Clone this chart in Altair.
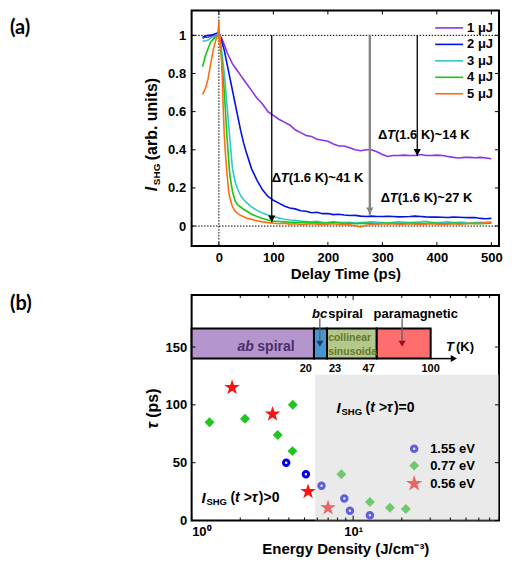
import altair as alt
import pandas as pd

FONT = "Liberation Sans"
LFONT = "Lato"
W = 308
HA = 236
HB = 226

# ---------------- Panel (a) data ----------------
series_names = ["1 μJ", "2 μJ", "3 μJ", "4 μJ", "5 μJ"]
series_colors = ["#8c32e6", "#0014e6", "#32c8c8", "#14c814", "#ff6e14"]

t_grid = [-30, -25, -20, -15, -10, -5, 0, 5, 10, 15, 20, 25, 30, 35, 40, 45, 50,
          60, 70, 80, 90, 100, 110, 120, 130, 140, 150, 160, 170, 180, 190, 200,
          210, 220, 230, 240, 250, 260, 270, 280, 290, 300, 310, 320, 330, 340, 350,
          360, 370, 380, 390, 400, 410, 420, 430, 440, 450, 460, 470, 480, 490, 500]

i1 = [0.985, 0.99, 0.99, 0.995, 1.0, 1.0, 1.01,
      0.985, 0.95, 0.91, 0.88, 0.85, 0.83, 0.81, 0.79, 0.77, 0.75,
      0.71, 0.67, 0.64, 0.60, 0.58, 0.56, 0.545, 0.53, 0.505, 0.49,
      0.475, 0.47, 0.455, 0.45, 0.445, 0.43, 0.42, 0.42, 0.41, 0.40,
      0.395, 0.40, 0.40, 0.39, 0.375, 0.365, 0.37, 0.37, 0.372, 0.37,
      0.37, 0.375, 0.37, 0.37, 0.372, 0.37, 0.365, 0.36, 0.357, 0.36,
      0.36, 0.358, 0.36, 0.357, 0.353]
i2 = [0.99, 0.995, 1.0, 1.0, 1.005, 1.01, 1.015,
      0.97, 0.92, 0.85, 0.78, 0.71, 0.64, 0.57, 0.50, 0.44, 0.39,
      0.30, 0.24, 0.19, 0.155, 0.135, 0.12, 0.105, 0.095, 0.09, 0.08,
      0.078, 0.07, 0.072, 0.065, 0.066, 0.06, 0.062, 0.058, 0.055, 0.056,
      0.052, 0.05, 0.052, 0.05, 0.05, 0.051, 0.05, 0.048, 0.049, 0.05,
      0.052, 0.05, 0.048, 0.047, 0.047, 0.046, 0.045, 0.047, 0.046, 0.045,
      0.044, 0.045, 0.04, 0.038, 0.04]
i3 = [0.97, 0.97, 0.975, 0.985, 0.99, 1.0, 1.01,
      0.92, 0.80, 0.63, 0.46, 0.30, 0.23, 0.19, 0.16, 0.14, 0.125,
      0.10, 0.082, 0.068, 0.058, 0.05, 0.042, 0.036, 0.032, 0.03, 0.026,
      0.024, 0.022, 0.025, 0.02, 0.018, 0.022, 0.02, 0.018, 0.02, 0.016,
      0.018, 0.02, 0.022, 0.02, 0.018, 0.015, 0.02, 0.022, 0.02, 0.018,
      0.02, 0.022, 0.025, 0.02, 0.018, 0.02, 0.022, 0.018, 0.02, 0.02,
      0.015, 0.018, 0.02, 0.018, 0.02]
i4 = [0.835, 0.89, 0.93, 0.965, 0.98, 0.995, 1.005,
      0.88, 0.70, 0.46, 0.27, 0.18, 0.13, 0.11, 0.10, 0.088, 0.08,
      0.062, 0.05, 0.04, 0.032, 0.026, 0.024, 0.022, 0.02, 0.02, 0.018,
      0.02, 0.016, 0.018, 0.015, 0.017, 0.02, 0.016, 0.014, 0.015, 0.012,
      0.014, 0.015, 0.013, 0.012, 0.014, 0.016, 0.015, 0.012, 0.014, 0.015,
      0.014, 0.013, 0.015, 0.016, 0.014, 0.012, 0.013, 0.015, 0.014, 0.012,
      0.013, 0.014, 0.012, 0.013, 0.015]
t5 = [-30, -25, -20, -15, -10, -5, -2, 0, 1, 2, 4, 6, 8, 10, 12, 15, 18, 20, 25,
      30, 35, 40, 45, 50, 60, 70, 80, 90, 100,
      110, 120, 130, 140, 150, 160, 170, 180, 190, 200,
      210, 220, 230, 240, 250, 260, 270, 280, 290, 300,
      310, 320, 330, 340, 350, 360, 370, 380, 390, 400,
      410, 420, 430, 440, 450, 460, 470, 480, 490, 500]
i5 = [0.69, 0.72, 0.77, 0.85, 0.93, 0.98, 1.0, 1.075, 0.95, 1.0, 0.93, 0.80, 0.62,
      0.47, 0.38, 0.27, 0.18, 0.15, 0.10, 0.078, 0.065, 0.055, 0.05, 0.042, 0.035,
      0.028, 0.022, 0.018, 0.015,
      0.012, 0.015, 0.01, 0.012, 0.008, 0.01, 0.012, 0.01, 0.008, 0.01,
      0.012, 0.008, 0.01, 0.006, 0.002, -0.005, 0.004, 0.008, 0.01, 0.012,
      0.01, 0.012, 0.008, 0.01, 0.012, 0.01, 0.008, 0.01, 0.012, 0.01,
      0.008, 0.01, 0.012, 0.01, 0.012, 0.015, 0.012, 0.015, 0.018, 0.02]
series_t = [t_grid, t_grid, t_grid, t_grid, t5]
series_i = [i1, i2, i3, i4, i5]

arrow_t = [97, 277, 364]
arrow_tip = [0.018, 0.06, 0.366]
arrow_col = ["black", "#858585", "black"]
arrow_w = [1.3, 2.4, 1.3]

ann_t = [292, 97, 297]
ann_i = [0.48, 0.25, 0.147]
ann_val = ["14", "41", "27"]

xt_a = [0, 100, 200, 300, 400, 500]
yt_a = [0, 0.2, 0.4, 0.6, 0.8, 1]

# ---------------- Panel (b) data ----------------
phase_bounds_E = [1.0, 5.72, 6.89, 14.0, 30.2]
phase_fill = ["#b496cd", "#4696d2", "#b4c88c", "#ff6e6e"]
phase_temps = ["20", "23", "47", "100"]

pts_names = ["1.55 eV", "0.77 eV", "0.56 eV"]
pts_colors = ["#0000ee", "#22c422", "#ff1010"]
E_155 = [3.85, 5.1, 6.37, 8.82, 9.55, 12.7]
tau_155 = [50, 40, 30, 19, 8.5, 4.5]
E_077 = [1.29, 2.14, 3.41, 4.23, 4.21, 8.46, 12.7, 16.9, 21.2]
tau_077 = [85, 88, 74, 100, 60, 40, 16, 11, 10]
E_056 = [1.78, 3.17, 5.26, 6.99]
tau_056 = [115, 92, 25, 11]

xt_b_major = [1, 10]
xt_b_minor = [2, 3, 4, 5, 6, 7, 8, 9, 20, 30, 40, 50, 60, 70, 80]
yt_b = [0, 50, 100, 150]

STAR = ("M0,-1L0.2245,-0.309L0.9511,-0.309L0.3633,0.118L0.5878,0.809L0,0.382"
        "L-0.5878,0.809L-0.3633,0.118L-0.9511,-0.309L-0.2245,-0.309Z")

one = pd.DataFrame({"k": [0]})


def txt(s, x, y, size=13, weight="bold", style="normal", align="left",
        baseline="middle", angle=0, font=FONT, color="black", dx=0, dy=0):
    kw = dict(font=font, fontSize=size, fontWeight=weight, fontStyle=style,
              align=align, baseline=baseline, color=color, dx=dx, dy=dy)
    if angle:
        kw["angle"] = angle
    return alt.Chart(one).mark_text(**kw).encode(
        x=alt.value(x), y=alt.value(y), text=alt.value(s))


# ================= Panel (a) =================
xa_scale = alt.Scale(domain=[-50, 514], nice=False, zero=False)
ya_scale = alt.Scale(domain=[-0.105, 1.13], nice=False, zero=False)
xa_axis = alt.Axis(values=xt_a, ticks=False, domain=False, grid=False,
                   labelFont=FONT, labelFontSize=13, labelFontWeight="bold",
                   labelColor="black", labelPadding=5,
                   title="Delay Time (ps)", titleFont=FONT, titleFontSize=15,
                   titleFontWeight="bold", titleColor="black", titlePadding=2)
ya_axis = alt.Axis(values=yt_a, format="~g", ticks=False, domain=False, grid=False,
                   labelFont=FONT, labelFontSize=13, labelFontWeight="bold",
                   labelColor="black", labelPadding=6, title=None)


def XA(f="t"):
    return alt.X(f"{f}:Q", scale=xa_scale, axis=xa_axis)


def YA(f="I"):
    return alt.Y(f"{f}:Q", scale=ya_scale, axis=ya_axis)


la = []
la.append(alt.Chart(pd.DataFrame({"I": [1.0, 0.0]})).mark_rule(
    color="black", strokeWidth=1, strokeDash=[1.5, 1.5]).encode(y=YA()))
la.append(alt.Chart(pd.DataFrame({"t": [0.0]})).mark_rule(
    color="black", strokeWidth=1, strokeDash=[1.5, 1.5]).encode(x=XA()))

for col, tt, vv in zip(series_colors, series_t, series_i):
    df = pd.DataFrame({"t": tt, "I": vv})
    la.append(alt.Chart(df).mark_line(color=col, strokeWidth=1.6).encode(
        x=XA(), y=YA()))

for t0, tip, col, w in zip(arrow_t, arrow_tip, arrow_col, arrow_w):
    df = pd.DataFrame({"t": [t0], "I": [1.0], "tip": [tip]})
    la.append(alt.Chart(df).mark_rule(color=col, strokeWidth=w).encode(
        x=XA(), y=YA(), y2=alt.Y2("tip:Q")))
    la.append(alt.Chart(df).mark_point(shape="triangle-down", filled=True, size=55,
                                       color=col, opacity=1, yOffset=-4).encode(
        x=XA(), y=YA("tip")))

ann = pd.DataFrame({"t": ann_t, "I": ann_i,
                    "rest": ["(1.6 K)~" + v + " K" for v in ann_val]})
tk = dict(font=FONT, fontSize=13, fontWeight="bold", align="left", baseline="middle",
          color="black")
la.append(alt.Chart(ann).mark_text(**tk).encode(x=XA(), y=YA(), text=alt.value("Δ")))
la.append(alt.Chart(ann).mark_text(fontStyle="italic", dx=9, **tk).encode(
    x=XA(), y=YA(), text=alt.value("T")))
la.append(alt.Chart(ann).mark_text(dx=17, **tk).encode(x=XA(), y=YA(), text="rest:N"))

# legend (a)
for i, (name, col) in enumerate(zip(series_names, series_colors)):
    yy = 17.4 + 16.5 * i
    la.append(alt.Chart(one).mark_rule(color=col, strokeWidth=1.6).encode(
        x=alt.value(244), x2=alt.value(272), y=alt.value(yy)))
    la.append(txt(name, 276, yy))

# inward ticks (a)
dxt = pd.DataFrame({"t": xt_a})
dyt = pd.DataFrame({"I": yt_a})
for y0, y1 in [(HA, HA - 4), (0, 4)]:
    la.append(alt.Chart(dxt).mark_rule(color="black", strokeWidth=1).encode(
        x=XA(), y=alt.value(y0), y2=alt.value(y1)))
for x0, x1 in [(0, 4), (W, W - 4)]:
    la.append(alt.Chart(dyt).mark_rule(color="black", strokeWidth=1).encode(
        y=YA(), x=alt.value(x0), x2=alt.value(x1)))

la.append(txt("(a)", -182, 7, size=20, font=LFONT, baseline="top"))
# y title (a)
la.append(txt("I", -40, 181, size=16, style="italic", angle=270))
la.append(txt("SHG", -35, 175, size=10, angle=270))
la.append(txt("(arb. units)", -40, 150, size=16, angle=270))

A = alt.layer(*la).properties(width=W, height=HA)

# ================= Panel (b) =================
xb_scale = alt.Scale(type="log", domain=[1, 80], nice=False)
yb_scale = alt.Scale(domain=[0, 195], nice=False, zero=False)
xb_axis = alt.Axis(values=xt_b_major, labelExpr="datum.value == 1 ? '10⁰' : '10¹'",
                   ticks=False, domain=False, grid=False,
                   labelFont=FONT, labelFontSize=13, labelFontWeight="bold",
                   labelColor="black", labelPadding=5,
                   title="Energy Density (J/cm⁻³)", titleFont=FONT, titleFontSize=15,
                   titleFontWeight="bold", titleColor="black", titlePadding=3)
yb_axis = alt.Axis(values=yt_b, ticks=False, domain=False, grid=False,
                   labelFont=FONT, labelFontSize=13, labelFontWeight="bold",
                   labelColor="black", labelPadding=5, title=None)


def XB(f="E"):
    return alt.X(f"{f}:Q", scale=xb_scale, axis=xb_axis)


def YB(f="tau"):
    return alt.Y(f"{f}:Q", scale=yb_scale, axis=yb_axis)


def XD(v):
    return alt.X(datum=v, scale=xb_scale, axis=xb_axis)


def YD(v):
    return alt.Y(datum=v, scale=yb_scale, axis=yb_axis)


lb = []
phases = pd.DataFrame({"E": phase_bounds_E[:-1], "E2": phase_bounds_E[1:],
                       "fill": phase_fill})
lb.append(alt.Chart(phases).mark_rect(stroke="black", strokeWidth=2).encode(
    x=XB(), x2=alt.X2("E2:Q"), y=YD(140), y2=alt.Y2(datum=166),
    fill=alt.Fill("fill:N", scale=None)))

temps = pd.DataFrame({"E": phase_bounds_E[1:], "T": phase_temps,
                      "al": ["right", "left", "right", "center"]})
for al, dxx in [("right", -2), ("left", 2), ("center", 0)]:
    lb.append(alt.Chart(temps).transform_filter(f"datum.al == '{al}'").mark_text(
        font=FONT, fontSize=11, fontWeight="bold", align=al, baseline="middle",
        color="black", dx=dxx).encode(x=XB(), y=YD(131), text="T:N"))


def dtext(s, ex, ty, size=13, style="normal", align="left", dx=0, color="black"):
    return alt.Chart(one).mark_text(font=FONT, fontSize=size, fontWeight="bold",
                                    fontStyle=style, align=align, baseline="middle",
                                    dx=dx, color=color).encode(
        x=XD(ex), y=YD(ty), text=alt.value(s))


lb.append(dtext("ab", 1.92, 150, size=14, style="italic", color="#4a2d6b"))
lb.append(dtext("spiral", 1.92, 150, size=14, dx=20, color="#4a2d6b"))
lb.append(dtext("collinear", 7.0, 157.5, size=10.5, color="#66782a"))
lb.append(dtext("sinusoida", 7.0, 145.5, size=10.5, color="#66782a"))
lb.append(dtext("bc", 6.91, 178.8, style="italic", align="right"))
lb.append(dtext("spiral", 6.91, 178.8, dx=1))
lb.append(dtext("paramagnetic", 24.4, 178.8, align="center"))

# phase arrows
for ex, hc in [(6.22, "#1c3c78"), (20.1, "#a01010")]:
    df = pd.DataFrame({"E": [ex], "tau": [174.6], "tip": [152.0]})
    lb.append(alt.Chart(df).mark_rule(color="#606060", strokeWidth=1.3).encode(
        x=XB(), y=YB(), y2=alt.Y2("tip:Q")))
    lb.append(alt.Chart(df).mark_point(shape="triangle-down", filled=True, size=50,
                                       color=hc, opacity=1, yOffset=-1).encode(
        x=XB(), y=YB("tip")))
# T(K) arrow
dfT = pd.DataFrame({"E": [30.2], "E2": [42.0], "tau": [140]})
lb.append(alt.Chart(dfT).mark_rule(color="black", strokeWidth=1.5).encode(
    x=XB(), x2=alt.X2("E2:Q"), y=YB()))
lb.append(alt.Chart(dfT).mark_point(shape="triangle-right", filled=True, size=50,
                                    color="black", opacity=1).encode(x=XB("E2"), y=YB()))
lb.append(dtext("T", 37.6, 150, style="italic"))
lb.append(dtext("(K)", 37.6, 150, dx=10))

# scatter
d155 = pd.DataFrame({"E": E_155, "tau": tau_155})
d077 = pd.DataFrame({"E": E_077, "tau": tau_077})
d056 = pd.DataFrame({"E": E_056, "tau": tau_056})
lb.append(alt.Chart(d077).mark_point(shape="diamond", filled=True, size=100,
                                     color=pts_colors[1], opacity=1).encode(x=XB(), y=YB()))
lb.append(alt.Chart(d056).mark_point(shape=STAR, filled=True, size=270,
                                     color=pts_colors[2], opacity=1).encode(x=XB(), y=YB()))
lb.append(alt.Chart(d155).mark_point(shape="circle", filled=False, size=30, strokeWidth=3,
                                     color=pts_colors[0], opacity=1).encode(x=XB(), y=YB()))

# legend (b) symbols
leg_y = [154, 171, 189]
lb.append(alt.Chart(one).mark_point(shape="circle", filled=False, size=30, strokeWidth=3,
                                    color=pts_colors[0], opacity=1).encode(
    x=alt.value(223), y=alt.value(leg_y[0])))
lb.append(alt.Chart(one).mark_point(shape="diamond", filled=True, size=100,
                                    color=pts_colors[1], opacity=1).encode(
    x=alt.value(223), y=alt.value(leg_y[1])))
lb.append(alt.Chart(one).mark_point(shape=STAR, filled=True, size=300,
                                    color=pts_colors[2], opacity=1).encode(
    x=alt.value(223), y=alt.value(leg_y[2])))

# gray overlay
ov = pd.DataFrame({"E": [5.8], "E2": [80], "tau": [0], "tau2": [126]})
lb.append(alt.Chart(ov).mark_rect(color="#d0d0d0", opacity=0.45).encode(
    x=XB(), x2=alt.X2("E2:Q"), y=YB(), y2=alt.Y2("tau2:Q")))

for name, yy in zip(pts_names, leg_y):
    lb.append(txt(name, 239, yy))

# region texts
region = pd.DataFrame({"E": [7.89, 1.15], "tau": [97.5, 19.7], "rel": [")=0", ")>0"]})
rk = dict(font=FONT, fontWeight="bold", align="left", baseline="middle", color="black")
lb.append(alt.Chart(region).mark_text(fontSize=15, fontStyle="italic", **rk).encode(
    x=XB(), y=YB(), text=alt.value("I")))
lb.append(alt.Chart(region).mark_text(fontSize=9.5, dx=5, dy=4, **rk).encode(
    x=XB(), y=YB(), text=alt.value("SHG")))
lb.append(alt.Chart(region).mark_text(fontSize=14, dx=29, **rk).encode(
    x=XB(), y=YB(), text=alt.value("(")))
lb.append(alt.Chart(region).mark_text(fontSize=14, dx=33.7, fontStyle="italic", **rk).encode(
    x=XB(), y=YB(), text=alt.value("t >τ")))
lb.append(alt.Chart(region).mark_text(fontSize=14, dx=57.5, **rk).encode(
    x=XB(), y=YB(), text="rel:N"))

# inward ticks (b)
dmaj = pd.DataFrame({"E": xt_b_major})
dmin = pd.DataFrame({"E": xt_b_minor})
dyb = pd.DataFrame({"tau": yt_b})
for dfx, ln in [(dmaj, 5), (dmin, 3)]:
    for y0, y1 in [(HB, HB - ln), (0, ln)]:
        lb.append(alt.Chart(dfx).mark_rule(color="black", strokeWidth=1).encode(
            x=XB(), y=alt.value(y0), y2=alt.value(y1)))
for x0, x1 in [(0, 4), (W, W - 4)]:
    lb.append(alt.Chart(dyb).mark_rule(color="black", strokeWidth=1).encode(
        y=YB(), x=alt.value(x0), x2=alt.value(x1)))

lb.append(txt("(b)", -182, -1, size=20, font=LFONT, baseline="top"))
lb.append(txt("τ", -39, 134, size=16, style="italic", angle=270))
lb.append(txt("(ps)", -39, 123, size=16, angle=270))

B = alt.layer(*lb).properties(width=W, height=HB)

chart = alt.vconcat(A, B, spacing=11).resolve_scale(
    x="independent", y="independent").configure_view(
    stroke="black", strokeWidth=2).properties(
    padding={"left": 1, "top": 0, "right": 0, "bottom": 0}, background="white")

chart.save("out.html", embed_options={"renderer": "svg", "actions": False})
